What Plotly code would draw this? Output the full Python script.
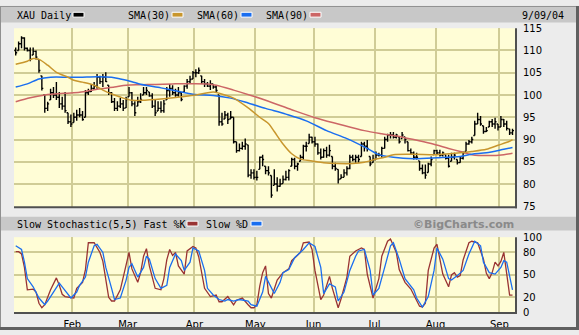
import plotly.graph_objects as go
import pandas as pd

# ---------------- data ----------------
holidays = ["2004-01-19", "2004-02-16", "2004-04-09", "2004-05-31",
            "2004-06-11", "2004-07-05", "2004-09-06"]
dates = [d for d in pd.bdate_range("2004-01-02", "2004-09-08")
         if d.strftime("%Y-%m-%d") not in holidays]
day = list(range(len(dates)))
month_labels = ["Feb", "Mar", "Apr", "May", "Jun", "Jul", "Aug", "Sep"]

high = [
    110.7, 112.0, 113.2, 113.0, 110.7, 110.7, 110.7, 110.0, 108.0, 104.3,
    100.0, 98.5, 101.4, 101.8, 102.9, 100.7, 99.6, 100.7, 96.0, 95.6,
    96.0, 96.7, 97.1, 96.4, 101.1, 101.4, 102.5, 102.9, 104.7, 104.3,
    104.7, 105.1, 102.2, 100.7, 99.3, 98.6, 99.3, 98.9, 99.6, 101.8,
    100.7, 98.6, 99.6, 100.4, 101.8, 101.8, 100.7, 100.4, 98.9, 98.6,
    98.6, 98.9, 101.8, 102.5, 102.2, 101.4, 101.8, 100.7, 102.2, 103.6,
    104.3, 105.4, 105.8, 106.2, 104.3, 103.6, 102.9, 103.3, 102.5, 102.2,
    100.0, 96.0, 96.4, 96.0, 96.4, 95.0, 89.5, 89.1, 89.5, 90.2,
    88.8, 83.3, 83.3, 83.0, 86.2, 86.6, 84.0, 84.0, 81.9, 83.3,
    81.5, 81.2, 81.9, 83.0, 83.3, 85.9, 85.9, 84.8, 86.6, 88.8,
    89.5, 91.3, 90.6, 90.6, 89.1, 88.0, 88.0, 88.4, 88.8, 86.2,
    84.8, 83.3, 82.2, 83.3, 84.0, 86.6, 86.6, 86.6, 86.6, 89.5,
    89.5, 89.9, 86.2, 86.6, 87.3, 87.0, 88.4, 90.6, 91.3, 91.7,
    91.7, 91.3, 90.6, 91.7, 90.6, 89.5, 88.0, 87.3, 87.0, 85.2,
    84.4, 84.4, 84.8, 86.2, 87.7, 87.7, 87.7, 87.3, 86.6, 86.6,
    87.0, 87.0, 85.5, 86.2, 87.3, 89.5, 89.9, 90.6, 94.2, 96.0,
    95.3, 93.1, 92.8, 94.2, 94.6, 94.9, 93.5, 95.3, 94.6, 94.2,
    92.4, 92.4]
low = [
    108.9, 110.0, 110.5, 110.0, 109.8, 107.6, 109.0, 108.0, 105.0, 101.0,
    96.0, 96.4, 98.9, 99.3, 98.9, 97.1, 96.7, 96.0, 93.5, 92.8,
    93.8, 94.2, 95.0, 94.2, 95.0, 100.0, 100.7, 101.1, 101.4, 102.5,
    101.8, 102.9, 100.0, 98.2, 96.4, 96.4, 97.1, 96.4, 97.1, 99.6,
    97.5, 95.3, 97.5, 98.2, 100.0, 100.0, 99.6, 97.1, 95.3, 96.4,
    96.0, 96.0, 98.9, 99.6, 100.0, 99.6, 99.6, 98.6, 100.7, 101.4,
    102.5, 103.6, 104.0, 104.7, 102.5, 101.8, 101.8, 101.1, 101.4, 100.7,
    93.1, 93.1, 94.6, 93.5, 94.6, 89.1, 87.0, 87.3, 87.7, 87.7,
    81.5, 81.2, 81.0, 80.8, 83.3, 84.0, 82.2, 81.9, 76.9, 79.7,
    78.3, 79.4, 80.1, 80.8, 80.8, 84.0, 83.3, 83.0, 85.1, 85.5,
    87.3, 89.1, 89.1, 88.4, 86.6, 85.5, 85.9, 85.9, 86.2, 83.3,
    83.0, 80.1, 81.2, 81.5, 81.9, 83.3, 85.1, 84.8, 84.8, 86.2,
    87.3, 87.3, 84.0, 84.8, 85.5, 86.2, 85.9, 88.0, 89.5, 90.2,
    90.2, 90.2, 89.1, 90.2, 89.1, 87.3, 86.6, 85.5, 85.5, 83.0,
    82.2, 81.2, 82.6, 84.0, 86.6, 86.6, 86.2, 86.2, 85.5, 83.7,
    85.1, 85.5, 84.4, 84.8, 85.5, 87.3, 88.8, 89.1, 90.9, 93.5,
    93.1, 91.3, 91.7, 92.8, 92.8, 92.4, 92.0, 92.8, 92.8, 92.0,
    91.0, 91.0]
close = [
    109.5, 111.5, 112.8, 110.5, 110.0, 108.0, 109.8, 108.5, 105.5, 101.5,
    97.0, 98.0, 100.5, 100.0, 99.5, 98.0, 97.5, 96.5, 94.0, 93.5,
    95.0, 95.5, 95.5, 94.5, 100.5, 100.8, 101.5, 102.0, 104.0, 103.0,
    104.0, 103.0, 100.5, 98.5, 97.0, 97.5, 98.0, 97.0, 99.0, 100.5,
    98.0, 96.0, 98.5, 99.0, 100.5, 101.0, 99.8, 97.5, 96.0, 97.0,
    96.5, 98.0, 101.0, 101.5, 100.5, 100.0, 100.5, 99.0, 102.0, 103.0,
    103.5, 105.0, 105.0, 105.5, 103.0, 102.5, 102.0, 102.5, 101.8, 101.0,
    94.0, 93.5, 95.5, 94.5, 95.0, 89.5, 87.5, 88.0, 88.5, 89.0,
    82.0, 82.5, 81.5, 81.5, 86.0, 85.5, 83.0, 82.5, 77.5, 80.0,
    79.5, 80.0, 81.0, 81.5, 83.0, 85.5, 84.0, 84.5, 86.0, 88.5,
    88.5, 90.5, 89.5, 89.0, 87.0, 86.0, 87.5, 86.5, 87.5, 84.0,
    83.5, 81.0, 81.5, 82.5, 83.5, 86.0, 85.5, 86.0, 85.5, 89.0,
    88.5, 88.0, 84.5, 85.5, 86.5, 86.5, 88.0, 90.0, 91.0, 91.0,
    90.5, 91.0, 89.5, 91.0, 90.0, 87.5, 87.0, 86.0, 86.0, 83.5,
    82.5, 82.0, 84.5, 85.5, 87.5, 87.0, 86.5, 87.0, 85.8, 84.0,
    86.0, 86.5, 84.8, 85.8, 87.0, 89.0, 89.5, 90.0, 93.5, 94.5,
    93.5, 91.8, 92.0, 94.0, 93.5, 94.0, 92.8, 94.5, 93.5, 92.5,
    91.5, 92.0]
open_ = [
    110.0, 110.0, 111.5, 112.8, 110.5, 110.0, 109.0, 109.8, 108.0, 104.3,
    100.0, 97.0, 98.9, 100.5, 100.0, 99.5, 98.0, 97.5, 96.0, 94.0,
    93.8, 95.0, 95.5, 95.5, 95.0, 100.5, 100.8, 101.5, 102.0, 104.0,
    103.0, 104.0, 102.2, 100.5, 98.5, 97.0, 97.5, 98.0, 97.1, 99.6,
    100.5, 98.0, 97.5, 98.5, 100.0, 100.5, 100.7, 99.8, 97.5, 96.4,
    97.0, 96.5, 98.9, 101.0, 101.5, 100.5, 100.0, 100.5, 100.7, 102.0,
    103.0, 103.6, 105.0, 105.0, 104.3, 103.0, 102.5, 102.0, 102.5, 101.8,
    100.0, 94.0, 94.6, 95.5, 94.6, 95.0, 89.5, 87.5, 88.0, 88.5,
    88.8, 82.0, 82.5, 81.5, 83.3, 86.0, 84.0, 83.0, 81.9, 79.7,
    80.0, 79.5, 80.1, 81.0, 81.5, 84.0, 85.5, 84.0, 85.1, 86.0,
    88.5, 89.1, 90.5, 89.5, 89.0, 87.0, 86.0, 87.5, 86.5, 86.2,
    84.0, 83.3, 81.2, 81.5, 82.5, 83.5, 86.0, 85.5, 86.0, 86.2,
    89.0, 88.5, 86.2, 84.8, 85.5, 86.5, 86.5, 88.0, 90.0, 91.0,
    91.0, 90.5, 90.6, 90.2, 90.6, 89.5, 87.5, 87.0, 86.0, 85.2,
    83.5, 82.5, 82.6, 84.5, 86.6, 87.5, 87.0, 86.5, 86.6, 85.8,
    85.1, 86.0, 85.5, 84.8, 85.8, 87.3, 89.0, 89.5, 90.9, 93.5,
    94.5, 93.1, 91.8, 92.8, 94.0, 93.5, 93.5, 92.8, 94.5, 93.5,
    92.4, 91.5]

sma30_day = [0, 4, 6, 8, 11, 14, 18, 20, 23, 27, 30, 34, 37, 40, 43, 50, 57, 62, 68, 70,
             75, 80, 84, 87, 89, 92, 95, 98, 102, 106, 111, 116, 120, 124, 127, 130,
             137, 145, 153, 157, 162, 166, 170, 171]
sma30_val = [106.9, 107.6, 108.2, 108.0, 106.7, 105.1, 104.0, 103.3, 102.9, 102.2, 101.1,
             100.0, 99.3, 98.8, 98.8, 99.1, 99.6, 100.0, 100.7, 100.4, 99.3, 97.1, 95.0,
             93.6, 91.8, 89.0, 86.8, 85.6, 85.2, 84.8, 84.6, 84.6, 84.9, 85.6, 86.0, 86.6,
             86.7, 86.6, 87.0, 87.3, 87.8, 88.7, 89.6, 90.0]
sma60_day = [0, 4, 8, 12, 18, 22, 28, 33, 36, 40, 43, 50, 57, 62, 68, 74, 80, 86, 93, 100,
             107, 114, 121, 125, 130, 137, 145, 153, 157, 162, 168, 171]
sma60_val = [101.8, 102.5, 103.6, 104.0, 104.0, 104.0, 104.1, 104.0, 103.6, 103.0, 102.4,
             101.6, 100.7, 100.1, 99.9, 99.3, 98.2, 97.0, 95.7, 94.2, 92.0, 90.2, 88.0, 86.6,
             86.0, 85.7, 85.9, 86.2, 86.7, 87.0, 87.8, 88.2]
sma90_day = [0, 5, 10, 17, 22, 28, 34, 38, 43, 54, 66, 69, 75, 81, 87, 95, 103, 111, 120,
             126, 131, 137, 143, 149, 153, 157, 163, 168, 171]
sma90_val = [98.5, 99.4, 100.0, 100.4, 100.6, 101.3, 101.8, 102.2, 102.3, 102.5, 102.5,
             102.2, 101.1, 99.9, 98.6, 96.7, 94.9, 93.5, 92.0, 91.3, 90.8, 90.0, 89.1, 88.0,
             87.3, 86.6, 86.4, 86.6, 86.9]

k_day = [0, 1, 2, 3, 4, 5, 6, 7, 8, 9, 10, 12, 14, 15, 16, 17, 19, 20, 21, 23, 24, 25, 27,
         29, 30, 31, 32, 33, 34, 36, 38, 39, 40, 42, 43, 44, 45, 46, 48, 50, 51, 52, 53,
         54, 55, 56, 58, 59, 61, 62, 63, 64, 65, 67, 69, 70, 71, 73, 75, 76, 78, 80, 81,
         82, 83, 84, 85, 86, 87, 88, 90, 92, 94, 95, 98, 99, 101, 102, 103, 105, 106, 108,
         109, 111, 112, 114, 115, 117, 119, 120, 121, 123, 125, 126, 128, 129, 130, 131,
         132, 134, 136, 137, 139, 140, 141, 142, 144, 145, 146, 147, 149, 150, 151, 152,
         153, 154, 156, 157, 159, 161, 162, 163, 164, 165, 166, 167, 168, 169, 170, 171]
k_val = [81, 81, 78, 60, 30, 30, 31, 27, 12, 6, 10, 30, 46, 36, 24, 21, 19, 19, 32, 40, 57,
         93, 93, 80, 68, 45, 20, 15, 15, 30, 62, 80, 58, 40, 53, 75, 85, 62, 32, 30, 45, 70,
         84, 76, 80, 62, 51, 82, 88, 86, 74, 50, 32, 21, 23, 14, 14, 21, 10, 16, 19, 10, 6,
         6, 10, 35, 53, 62, 25, 19, 43, 53, 58, 69, 80, 93, 94, 84, 56, 17, 23, 48, 32, 6,
         18, 47, 75, 82, 86, 84, 51, 19, 45, 75, 95, 98, 90, 80, 57, 40, 31, 23, 8, 7, 12,
         56, 86, 91, 69, 51, 34, 50, 53, 47, 49, 70, 93, 95, 93, 71, 52, 45, 53, 67, 62, 68,
         80, 53, 23, 23]
d_day = [0, 2, 3, 4, 6, 7, 8, 10, 11, 13, 15, 16, 18, 19, 21, 22, 24, 25, 27, 28, 30, 31,
         33, 34, 36, 38, 39, 40, 42, 44, 45, 46, 48, 50, 52, 53, 55, 57, 58, 60, 61, 63, 65,
         66, 68, 70, 72, 73, 75, 77, 80, 81, 83, 85, 86, 87, 89, 91, 92, 94, 96, 99, 101,
         103, 105, 106, 108, 110, 111, 113, 115, 117, 118, 120, 122, 123, 125, 127, 129,
         130, 132, 134, 137, 138, 140, 142, 144, 145, 147, 149, 150, 152, 154, 156, 158,
         160, 161, 163, 165, 167, 168, 169, 170, 171]
d_val = [89, 84, 67, 45, 34, 27, 19, 10, 15, 27, 39, 34, 23, 19, 27, 36, 47, 67, 89, 91, 80,
         60, 32, 17, 19, 43, 60, 65, 47, 60, 75, 71, 45, 32, 36, 60, 78, 69, 56, 67, 86, 82,
         56, 32, 23, 17, 15, 17, 15, 17, 15, 10, 8, 27, 48, 40, 25, 40, 53, 57, 73, 84, 93,
         88, 60, 25, 38, 34, 15, 27, 56, 75, 82, 84, 56, 23, 32, 60, 89, 93, 71, 45, 30, 19,
         7, 21, 56, 86, 71, 45, 43, 49, 56, 78, 95, 89, 67, 53, 51, 60, 69, 67, 47, 30]

price_ticks = [75, 80, 85, 90, 95, 100, 105, 110, 115]
stoch_ticks = [0, 20, 50, 80, 100]

# month starts -> gridline positions (between last day of prev month and first day)
month_pos = []
for i in range(1, len(dates)):
    if dates[i].month != dates[i - 1].month:
        month_pos.append(i - 0.5)

# ---------------- geometry helpers (pixels -> paper) ----------------
W, H = 579, 335


def px(x):
    return x / W


def py(y):
    return 1 - y / H


PL, PR = 14, 516
GRID = "#d0cc96"
FONT = "DejaVu Sans"
MONO = "DejaVu Sans Mono"

fig = go.Figure()
fig.add_trace(go.Ohlc(
    x=day, open=open_, high=high, low=low, close=close,
    increasing=dict(line=dict(color="black", width=1.4)),
    decreasing=dict(line=dict(color="black", width=1.4)),
    tickwidth=0.5, hoverinfo="skip", xaxis="x", yaxis="y"))
for dd, vv, col in [(sma90_day, sma90_val, "#cc6666"),
                    (sma60_day, sma60_val, "#1a6ef0"),
                    (sma30_day, sma30_val, "#c8962d")]:
    fig.add_trace(go.Scatter(x=dd, y=vv, mode="lines",
                             line=dict(color=col, width=1.5, shape="spline", smoothing=0.8),
                             hoverinfo="skip", xaxis="x", yaxis="y"))
fig.add_trace(go.Scatter(x=k_day, y=k_val, mode="lines",
                         line=dict(color="#993333", width=1.3),
                         hoverinfo="skip", xaxis="x2", yaxis="y2"))
fig.add_trace(go.Scatter(x=d_day, y=d_val, mode="lines",
                         line=dict(color="#1a6ef0", width=1.3),
                         hoverinfo="skip", xaxis="x2", yaxis="y2"))

xr = [-0.59, 172.2]
shapes = []


def rect(x0, y0, x1, y1, fill, line=None, lw=0):
    shapes.append(dict(type="rect", xref="paper", yref="paper", layer="above",
                       x0=px(x0), x1=px(x1), y0=py(y1), y1=py(y0),
                       fillcolor=fill, line=dict(color=line or fill, width=lw)))


def hline(x0, x1, y, col, w):
    shapes.append(dict(type="line", xref="paper", yref="paper", layer="above",
                       x0=px(x0), x1=px(x1), y0=py(y), y1=py(y), line=dict(color=col, width=w)))


def vline(x, y0, y1, col, w):
    shapes.append(dict(type="line", xref="paper", yref="paper", layer="above",
                       x0=px(x), x1=px(x), y0=py(y0), y1=py(y1), line=dict(color=col, width=w)))


# header bars
rect(0, 0, 579, 17, "#c8c8c8")
rect(0, 218, 579, 232, "#c8c8c8")
# legend swatches
for x0, col in [(73, "black"), (172, "#c8962d"), (241, "#1a6ef0"), (310, "#cc6666")]:
    rect(x0, 6.5, x0 + 11, 11.5, col, "white", 1)
for x0, col in [(187, "#993333"), (251, "#1a6ef0")]:
    rect(x0, 222.5, x0 + 11, 227.5, col, "white", 1)
# plot frames
hline(PL, PR + 1, 208, "#505050", 2)
vline(PR, 23, 209, "#505050", 2)
hline(PL, PR + 1, 317.5, "#505050", 2)
vline(PR, 239, 318, "#505050", 2)
# outer frame
hline(0, 579, 0.5, "#909090", 1)
vline(0.5, 0, 335, "#909090", 1)
hline(0, 579, 333.5, "#606060", 3)
vline(577.5, 0, 335, "#606060", 3)

ann = []


def text(x, y, s, anchor="left", font=MONO, size=10, color="black"):
    ann.append(dict(x=px(x), y=py(y), xref="paper", yref="paper", text=s, showarrow=False,
                    xanchor=anchor, yanchor="middle",
                    font=dict(family=font, size=size, color=color)))


text(15, 9.5, "XAU Daily")
text(126, 9.5, "SMA(30)")
text(195, 9.5, "SMA(60)")
text(264, 9.5, "SMA(90)")
text(566, 9.5, "9/09/04", anchor="right")
text(15, 225.5, "Slow Stochastic(5,5) Fast %K")
text(204, 225.5, "Slow %D")
text(516, 225.5, "<b>©BigCharts.com</b>", anchor="right", font=FONT, size=11, color="#8a8a8a")

fig.update_layout(
    width=W, height=H, margin=dict(l=0, r=0, t=0, b=0),
    paper_bgcolor="#ececec", plot_bgcolor="#fffdd6", showlegend=False, hovermode=False,
    shapes=shapes, annotations=ann,
    xaxis=dict(domain=[px(PL), px(PR)], range=xr, anchor="y", tickvals=month_pos,
               showticklabels=False, showgrid=True, gridcolor=GRID, gridwidth=1.5,
               zeroline=False, ticks="", rangeslider=dict(visible=False), fixedrange=True),
    yaxis=dict(domain=[py(208), py(23)], range=[74.8, 115.0], side="right", anchor="x",
               tickvals=price_ticks, showgrid=True, gridcolor=GRID, gridwidth=1.5,
               zeroline=False, ticks="", ticklabelstandoff=6,
               tickfont=dict(family=FONT, size=10, color="black")),
    xaxis2=dict(domain=[px(PL), px(PR)], range=xr, anchor="y2", tickvals=month_pos,
                ticktext=month_labels, showgrid=True, gridcolor=GRID, gridwidth=1.5,
                zeroline=False, ticks="", ticklabelstandoff=4,
                tickfont=dict(family=FONT, size=10, color="black")),
    yaxis2=dict(domain=[py(317), py(239)], range=[-0.5, 100.5], side="right", anchor="x2",
                tickvals=stoch_ticks, showgrid=True, gridcolor=GRID, gridwidth=1.5,
                zeroline=False, ticks="", ticklabelstandoff=6,
                tickfont=dict(family=FONT, size=10, color="black")),
)

fig.write_html("out.html")
